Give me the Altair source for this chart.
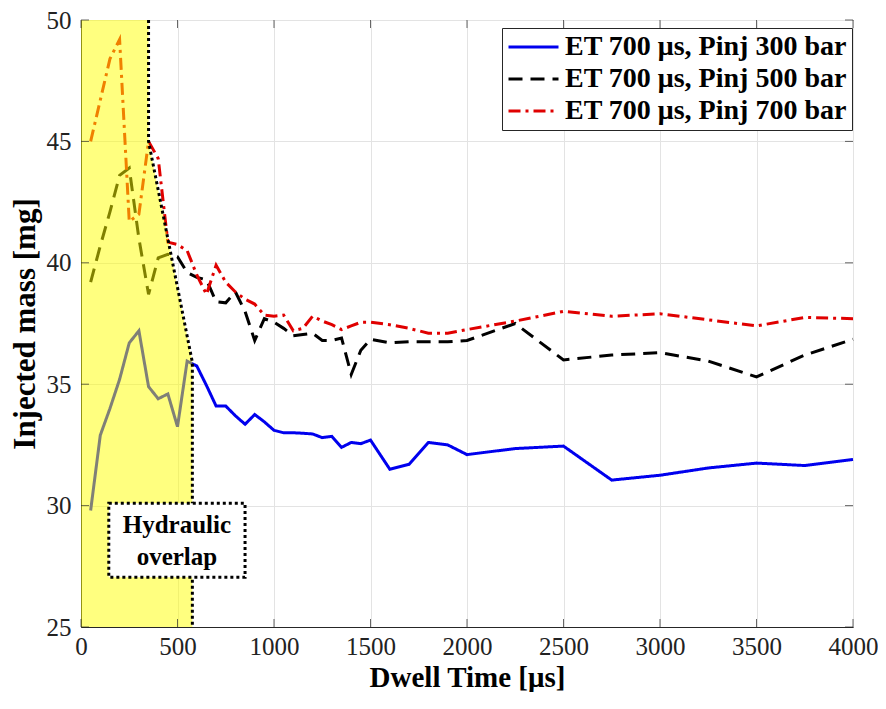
import altair as alt
import pandas as pd

# ---- data ----
dwell = [50, 100, 150, 200, 250, 300, 350, 400, 450, 500, 550, 600, 650, 700, 750,
         800, 850, 900, 950, 1000, 1050, 1100, 1150, 1200, 1250, 1300, 1350, 1400,
         1450, 1500, 1600, 1700, 1800, 1900, 2000, 2250, 2500, 2750, 3000, 3250,
         3500, 3750, 4000]

mass_300 = [29.8, 32.9, 34.0, 35.2, 36.7, 37.2, 34.9, 34.4, 34.6, 33.25, 35.95, 35.75,
            34.95, 34.1, 34.1, 33.7, 33.35, 33.75, 33.45, 33.1, 33.0, 33.0, 32.98, 32.95,
            32.8, 32.85, 32.4, 32.6, 32.55, 32.7, 31.5, 31.7, 32.6, 32.5, 32.1, 32.35,
            32.45, 31.05, 31.25, 31.55, 31.75, 31.65, 31.9]

mass_500 = [39.2, 40.7, 42.1, 43.6, 43.9, 41.0, 38.7, 40.2, 40.35, 40.25, 39.6, 39.4,
            39.3, 38.4, 38.35, 38.8, 38.0, 36.8, 37.7, 37.55, 37.3, 37.0, 37.05, 37.1,
            36.8, 36.8, 36.9, 35.4, 36.4, 36.85, 36.7, 36.75, 36.75, 36.75, 36.8, 37.5,
            36.0, 36.2, 36.3, 35.95, 35.3, 36.2, 36.85]

mass_700 = [45.0, 46.7, 48.4, 49.2, 41.7, 42.0, 45.0, 44.3, 40.85, 40.75, 40.5, 39.5,
            38.7, 39.9, 39.2, 38.8, 38.5, 38.3, 37.85, 37.8, 37.85, 37.2, 37.3, 37.8,
            37.6, 37.45, 37.25, 37.4, 37.55, 37.55, 37.45, 37.3, 37.1, 37.1, 37.25, 37.6,
            38.0, 37.8, 37.9, 37.65, 37.4, 37.75, 37.7]

series_names = ["ET 700 \u03bcs, Pinj 300 bar",
                "ET 700 \u03bcs, Pinj 500 bar",
                "ET 700 \u03bcs, Pinj 700 bar"]
series_colors = ["#0000ee", "#000000", "#e00000"]
series_dashes = [[1, 0], [14, 8], [12, 5, 3, 5]]

x_ticks = [0, 500, 1000, 1500, 2000, 2500, 3000, 3500, 4000]
y_ticks = [25, 30, 35, 40, 45, 50]

# hydraulic-overlap region outline (data coordinates)
overlap_x = [0, 350, 350, 577]
overlap_y = [50, 50, 45, 35.9]
boundary_x = [350, 350, 577, 577]
boundary_y = [50, 45, 35.9, 25]

# annotation box
box_x = [144]
box_x2 = [850]
box_y = [30.1]
box_y2 = [27.05]
label_x = [497, 497]
label_y = [29.22, 27.9]
label_text = ["Hydraulic", "overlap"]

# ---- build tables ----
rows = []
for name, vals in zip(series_names, [mass_300, mass_500, mass_700]):
    for i, (x, y) in enumerate(zip(dwell, vals)):
        rows.append({"series": name, "x": x, "y": y, "i": i})
df = pd.DataFrame(rows)

df_area = pd.DataFrame({"x": overlap_x, "y": overlap_y, "y2": [25] * len(overlap_x)})
df_bound = pd.DataFrame({"x": boundary_x, "y": boundary_y,
                         "o": list(range(len(boundary_x)))})
df_box = pd.DataFrame({"x": box_x, "x2": box_x2, "y": box_y, "y2": box_y2})
df_lab = pd.DataFrame({"x": label_x, "y": label_y, "t": label_text})
df_xt = pd.DataFrame({"x": x_ticks})
df_yt = pd.DataFrame({"y": y_ticks})

FONT = "Liberation Serif"
AXC = "#262626"

xscale = alt.Scale(domain=[0, 4000], nice=False, zero=False, padding=0)
yscale = alt.Scale(domain=[25, 50], nice=False, zero=False, padding=0)

xaxis = alt.Axis(values=x_ticks, title="Dwell Time [\u03bcs]",
                 labelFont=FONT, titleFont=FONT, labelFlush=False,
                 labelFontSize=25, titleFontSize=29, titleFontWeight="bold",
                 labelPadding=7, titlePadding=4, ticks=False, format="d",
                 labelColor="#222", titleColor="#000", gridColor="#e3e3e3",
                 domainColor=AXC)
yaxis = alt.Axis(values=y_ticks, title="Injected mass [mg]",
                 labelFont=FONT, titleFont=FONT, labelFlush=False,
                 labelFontSize=25, titleFontSize=31, titleFontWeight="bold",
                 labelPadding=10, titlePadding=5, ticks=False,
                 labelColor="#222", titleColor="#000", gridColor="#e3e3e3",
                 domainColor=AXC)

X = alt.X("x:Q", scale=xscale, axis=xaxis)
Y = alt.Y("y:Q", scale=yscale, axis=yaxis)

lines = alt.Chart(df).mark_line(strokeWidth=3).encode(
    x=X, y=Y,
    color=alt.Color("series:N",
                    scale=alt.Scale(domain=series_names, range=series_colors),
                    legend=alt.Legend(title=None, orient="none", legendX=421, legendY=8,
                                      symbolType="M-1,0L3,0", symbolSize=625,
                                      symbolStrokeWidth=3, labelFont=FONT,
                                      labelFontSize=28, labelFontWeight="bold",
                                      labelColor="#000", labelLimit=500,
                                      strokeColor=AXC, fillColor="white",
                                      padding=5, rowPadding=4, labelOffset=30)),
    strokeDash=alt.StrokeDash("series:N",
                              scale=alt.Scale(domain=series_names, range=series_dashes),
                              legend=None),
    order="i:Q",
)

area = alt.Chart(df_area).mark_area(color="#ffff00", opacity=0.5).encode(
    x=X, y=Y, y2="y2:Q")

boundary = alt.Chart(df_bound).mark_line(color="#000", strokeWidth=3,
                                         strokeDash=[3, 3]).encode(
    x=X, y=Y, order="o:Q")

box = alt.Chart(df_box).mark_rect(fill="white", stroke="#000", strokeWidth=3,
                                  strokeDash=[3, 3]).encode(
    x=X, x2="x2:Q", y=Y, y2="y2:Q")

label = alt.Chart(df_lab).mark_text(font=FONT, fontSize=25, fontWeight="bold",
                                    color="#000", align="center",
                                    baseline="middle").encode(
    x=X, y=Y, text="t:N")

# inward tick marks on all four sides
tick_bottom = alt.Chart(df_xt).mark_tick(orient="vertical", size=8, thickness=1,
                                         color=AXC, yOffset=-4).encode(
    x=X, y=alt.datum(25))
tick_top = alt.Chart(df_xt).mark_tick(orient="vertical", size=8, thickness=1,
                                      color=AXC, yOffset=4).encode(
    x=X, y=alt.datum(50))
tick_left = alt.Chart(df_yt).mark_tick(orient="horizontal", size=8, thickness=1,
                                       color=AXC, xOffset=4).encode(
    y=Y, x=alt.datum(0))
tick_right = alt.Chart(df_yt).mark_tick(orient="horizontal", size=8, thickness=1,
                                        color=AXC, xOffset=-4).encode(
    y=Y, x=alt.datum(4000))

chart = alt.layer(lines, area, boundary, box, label,
                  tick_bottom, tick_top, tick_left, tick_right).properties(
    width=772, height=607,
    padding={"left": 1, "top": 0, "right": 0, "bottom": 0},
    background="white",
).configure_view(stroke=AXC, strokeWidth=1)

chart.save("out.html", embed_options={"renderer": "svg", "actions": False})
